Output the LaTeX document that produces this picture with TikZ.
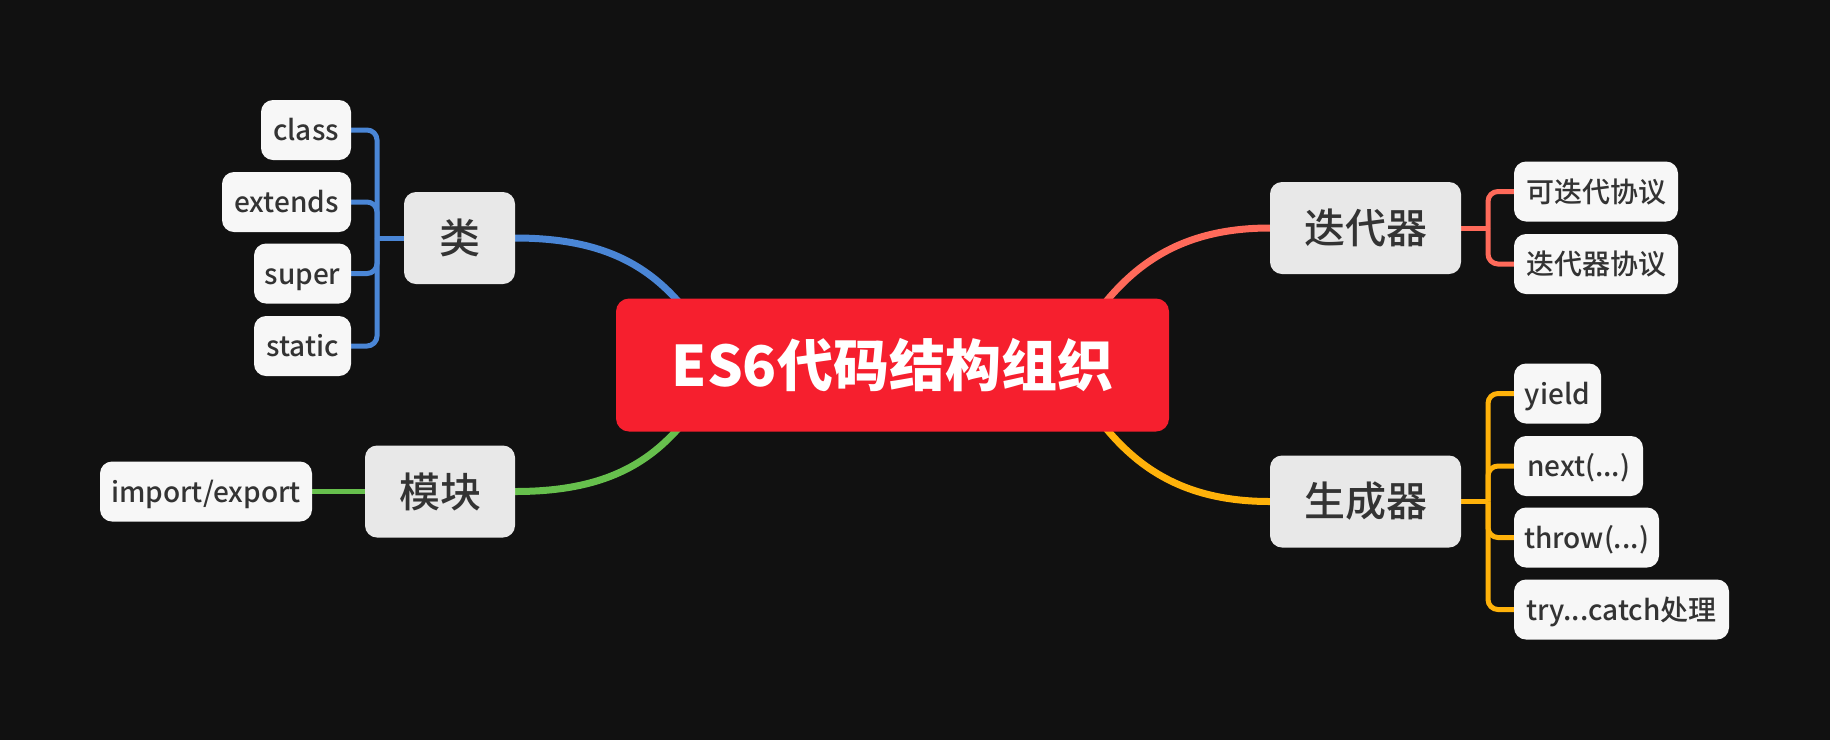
\documentclass[tikz,border=0pt]{standalone}
\usepackage{fontspec}
\setmainfont{Noto Sans CJK SC}
\newfontfamily\medfont{Noto Sans CJK SC}[UprightFont=* Medium]
\definecolor{bgc}{HTML}{111111}
\definecolor{redc}{HTML}{F61F2E}
\definecolor{bluec}{HTML}{4A86D6}
\definecolor{greenc}{HTML}{67C04D}
\definecolor{orangec}{HTML}{FF6A5A}
\definecolor{yellowc}{HTML}{FFB20A}
\definecolor{branchgray}{HTML}{E8E8E8}
\definecolor{leafgray}{HTML}{F7F7F7}
\definecolor{textdark}{HTML}{333333}
\pgfdeclarelayer{bglayer}
\pgfdeclarelayer{lines}
\pgfsetlayers{bglayer,lines,main}
\begin{document}
\begin{tikzpicture}[x=1pt,y=-1pt,
  centralbox/.style={fill=redc, rounded corners=13pt, text=white, font=\fontsize{56}{60}\selectfont\bfseries, minimum width=553pt, minimum height=133pt, inner sep=0pt},
  branchbox/.style={fill=branchgray, rounded corners=12pt, text=textdark, font=\medfont\fontsize{41}{44}\selectfont, minimum height=92pt, inner sep=0pt},
  leafbox/.style={fill=leafgray, rounded corners=12pt, text=textdark, font=\medfont\fontsize{28}{30}\selectfont, minimum height=60pt, inner sep=0pt, text height=22pt, text depth=1pt},
  mainline/.style={line width=7pt},
  subline/.style={line width=5pt, rounded corners=10pt}]
\begin{pgfonlayer}{bglayer}
\fill[bgc] (0,0) rectangle (1830,740);
\end{pgfonlayer}
\useasboundingbox (0,0) rectangle (1830,740);

% central
\node[centralbox] (central) at (892.5,365) {ES6代码结构组织};

% branches
\node[branchbox, minimum width=111pt] (lei) at (459.5,238) {类};
\node[branchbox, minimum width=150pt] (mokuai) at (440,491.5) {模块};
\node[branchbox, minimum width=191pt] (diedai) at (1365.5,228) {迭代器};
\node[branchbox, minimum width=191pt] (shengcheng) at (1365.5,501.5) {生成器};

% left leaves
\node[leafbox, minimum width=90pt] (class) at (306,130) {class};
\node[leafbox, minimum width=129pt] (extends) at (286.5,202) {extends};
\node[leafbox, minimum width=97pt] (super) at (302.5,273.5) {super};
\node[leafbox, minimum width=97pt] (static) at (302.5,346) {static};
\node[leafbox, minimum width=212pt] (impexp) at (206,491.5) {import/export};

% right leaves
\node[leafbox, minimum width=164pt] (kdd) at (1596,191.5) {可迭代协议};
\node[leafbox, minimum width=164pt] (ddq) at (1596,264) {迭代器协议};
\node[leafbox, minimum width=87pt] (yield) at (1557.5,393.5) {yield};
\node[leafbox, minimum width=129pt] (next) at (1578.5,466) {next(...)};
\node[leafbox, minimum width=145pt] (throw) at (1586.5,537.5) {throw(...)};
\node[leafbox, minimum width=215pt] (trycatch) at (1621.5,609.5) {try...catch处理};

% connector end points
\coordinate (cTL) at (700,330);
\coordinate (cBL) at (700,400);
\coordinate (cTR) at (1085,330);
\coordinate (cBR) at (1085,400);
\coordinate (jL) at (377,238);
\coordinate (jR1) at (1488,228);
\coordinate (jR2) at (1488,501.5);

\begin{pgfonlayer}{lines}
\draw[mainline, bluec] (lei.east) .. controls +(95,0) and +(-40,-60) .. (cTL);
\draw[mainline, greenc] (mokuai.east) .. controls +(95,0) and +(-40,60) .. (cBL);
\draw[mainline, orangec] (diedai.west) .. controls +(-95,0) and +(40,-60) .. (cTR);
\draw[mainline, yellowc] (shengcheng.west) .. controls +(-95,0) and +(40,60) .. (cBR);

\draw[subline, bluec] (lei.west) -- (jL);
\draw[subline, bluec] (jL) |- (class.east);
\draw[subline, bluec] (jL) |- (extends.east);
\draw[subline, bluec] (jL) |- (super.east);
\draw[subline, bluec] (jL) |- (static.east);

\draw[subline, greenc] (mokuai.west) -- (impexp.east);

\draw[subline, orangec] (diedai.east) -- (jR1);
\draw[subline, orangec] (jR1) |- (kdd.west);
\draw[subline, orangec] (jR1) |- (ddq.west);

\draw[subline, yellowc] (shengcheng.east) -- (jR2);
\draw[subline, yellowc] (jR2) |- (yield.west);
\draw[subline, yellowc] (jR2) |- (next.west);
\draw[subline, yellowc] (jR2) |- (throw.west);
\draw[subline, yellowc] (jR2) |- (trycatch.west);
\end{pgfonlayer}
\end{tikzpicture}
\end{document}
